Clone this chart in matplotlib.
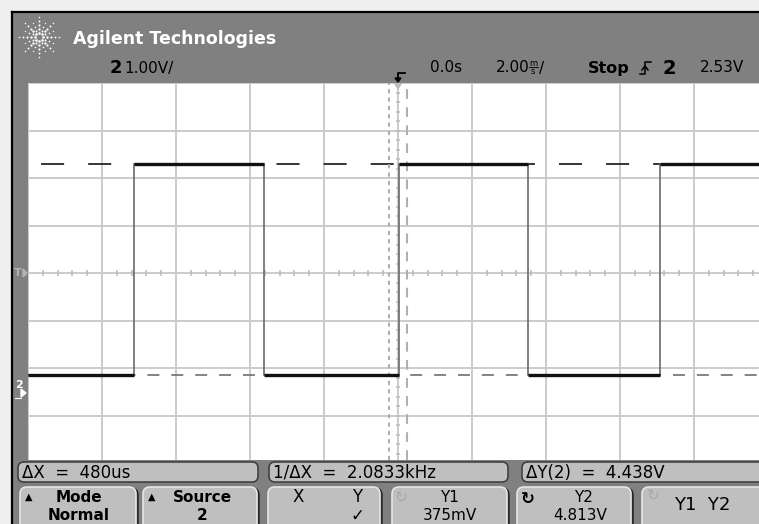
import numpy as np
import matplotlib
matplotlib.use("Agg")
import matplotlib.pyplot as plt
from matplotlib.patches import Rectangle, FancyBboxPatch, Polygon

plt.rcParams['font.family'] = ['DejaVu Sans']
plt.rcParams['lines.scale_dashes'] = False

# Scope settings
volts_per_div = 1.00
ms_per_div = 2.00
center_volts = 2.52          # voltage at screen centre line
trigger_level = "2.53V"

# Captured square wave (channel 2): edge times in ms and levels in V
edges_ms = [-10.0, -7.13, -3.61, 0.03, 3.50, 7.08, 9.8]
levels_v = [0.375, 4.813, 0.375, 4.813, 0.375, 4.813]

# Cursors
y1_v = 0.375
y2_v = 4.813
x1_ms = -0.23
dx_ms = 0.48
x2_ms = x1_ms + dx_ms

# Soft-key / readout labels
readouts = ["\u0394X  =  480us", "1/\u0394X  =  2.0833kHz", "\u0394Y(2)  =  4.438V"]
softkeys = [("Mode", "Normal"), ("Source", "2"), ("X", "Y", "\u2713"),
            ("Y1", "375mV"), ("Y2", "4.813V"), ("Y1  Y2",)]

W, H = 759, 524
fig = plt.figure(figsize=(W / 100, H / 100), dpi=100)
bg = fig.add_axes([0, 0, 1, 1])
bg.set_xlim(0, W)
bg.set_ylim(H, 0)
bg.axis('off')

dark = '#808080'
key = '#bfbfbf'

# outer page + scope chrome
bg.add_patch(Rectangle((0, 0), W, H, color='#efefef', zorder=0))
bg.add_patch(Rectangle((12, 12), W, H, color=dark, zorder=1))
bg.plot([11.5, 11.5], [11.5, H], color='black', lw=1.6, zorder=2)
bg.plot([11.5, W], [11.5, 11.5], color='black', lw=1.6, zorder=2)

# logo sparkle
cx, cy = 39, 37
for ang in np.arange(0, 360, 45):
    for r, s in [(4, 3.5), (8, 3.0), (12, 2.4), (16, 1.8), (20, 1.2)]:
        bg.scatter(cx + r * np.cos(np.radians(ang)), cy + r * np.sin(np.radians(ang)),
                   s=s, color='white', zorder=3, linewidths=0)
for ang in np.arange(22.5, 360, 45):
    for r, s in [(7, 2.0), (11, 1.4), (15, 0.9)]:
        bg.scatter(cx + r * np.cos(np.radians(ang)), cy + r * np.sin(np.radians(ang)),
                   s=s, color='white', zorder=3, linewidths=0)
bg.text(73, 39, "Agilent Technologies", color='white', fontsize=12.5,
        fontweight='bold', va='center', ha='left', zorder=3)

# header status line
bg.text(110, 68, "2", fontsize=13, fontweight='bold', va='center', zorder=3)
bg.text(124, 68, "1.00V/", fontsize=11, va='center', zorder=3)
bg.text(430, 68, "0.0s", fontsize=11, va='center', zorder=3)
bg.text(496, 68, "2.00", fontsize=11, va='center', zorder=3)
bg.text(533, 63, "m", fontsize=6, va='center', ha='center', zorder=3)
bg.plot([529, 538], [67, 67], color='black', lw=0.6, zorder=3)
bg.text(533, 72, "s", fontsize=6, va='center', ha='center', zorder=3)
bg.text(539, 68, "/", fontsize=11, va='center', zorder=3)
bg.text(588, 68, "Stop", fontsize=11.5, fontweight='bold', va='center', zorder=3)
bg.plot([640, 645, 645, 651], [74, 74, 62, 62], color='black', lw=1.1, zorder=3)
bg.plot([642, 645, 648], [70, 66, 70], color='black', lw=1.1, zorder=3)
bg.text(663, 68, "2", fontsize=14, fontweight='bold', va='center', zorder=3)
bg.text(700, 68, trigger_level, fontsize=11, va='center', zorder=3)
# trigger position marker
bg.plot([405, 398, 398], [73, 73, 80], color='black', lw=1.3, zorder=3)
bg.add_patch(Polygon([[395, 78], [401, 78], [398, 82]], color='black', zorder=3))

# left strip markers
bg.text(18, 273, "T", fontsize=8, color='#b4b4b4', fontweight='bold',
        va='center', ha='center', zorder=3)
bg.add_patch(Polygon([[23, 269], [23, 277], [27, 273]], color='#b4b4b4', zorder=3))
bg.text(19, 385, "2", fontsize=8, color='white', fontweight='bold',
        va='center', ha='center', zorder=3)
bg.add_patch(Polygon([[21, 389], [21, 397], [26, 393]], color='white', zorder=3))
bg.plot([15, 21], [398, 398], color='white', lw=0.8, zorder=3)

# readout row
readout_boxes = [(18, 258), (269, 508), (522, 775)]
for (x0, x1), txt in zip(readout_boxes, readouts):
    bg.add_patch(FancyBboxPatch((x0, 462), x1 - x0, 20,
                                boxstyle="round,pad=0,rounding_size=6",
                                fc=key, ec='#3a3a3a', lw=1.1, zorder=3))
    bg.text(x0 + 4, 472.5, txt, fontsize=12, va='center', ha='left', zorder=4)

# softkey row
key_boxes = [(20, 137), (143, 258), (268, 381), (392, 508), (517, 632), (642, 775)]
for x0, x1 in key_boxes:
    bg.add_patch(FancyBboxPatch((x0 + 1, 488), x1 - x0, 45,
                                boxstyle="round,pad=0,rounding_size=7",
                                fc='#404040', ec='#202020', lw=1.0, zorder=3))
    bg.add_patch(FancyBboxPatch((x0, 487), x1 - x0 - 1, 45,
                                boxstyle="round,pad=0,rounding_size=7",
                                fc=key, ec='#e6e6e6', lw=1.2, zorder=3))

fs = 11
ya, yb = 497, 516
bg.text(29, 497, "\u25b2", fontsize=7, va='center', ha='center', zorder=4)
bg.text(79, ya, softkeys[0][0], fontsize=fs, fontweight='bold', va='center', ha='center', zorder=4)
bg.text(79, yb, softkeys[0][1], fontsize=fs, fontweight='bold', va='center', ha='center', zorder=4)
bg.text(152, 497, "\u25b2", fontsize=7, va='center', ha='center', zorder=4)
bg.text(202, ya, softkeys[1][0], fontsize=fs, fontweight='bold', va='center', ha='center', zorder=4)
bg.text(202, yb, softkeys[1][1], fontsize=fs, fontweight='bold', va='center', ha='center', zorder=4)
bg.text(298, ya, softkeys[2][0], fontsize=fs + 1, va='center', ha='center', zorder=4)
bg.text(357, ya, softkeys[2][1], fontsize=fs + 1, va='center', ha='center', zorder=4)
bg.text(357, yb, softkeys[2][2], fontsize=fs + 1, va='center', ha='center', zorder=4)
bg.text(401, 497, "\u21bb", fontsize=11, color='#a8a8a8', va='center', ha='center', zorder=4)
bg.text(450, ya, softkeys[3][0], fontsize=fs, va='center', ha='center', zorder=4)
bg.text(450, yb, softkeys[3][1], fontsize=fs, va='center', ha='center', zorder=4)
bg.text(528, 499, "\u21bb", fontsize=12, fontweight='bold', va='center', ha='center', zorder=4)
bg.text(584, ya, softkeys[4][0], fontsize=fs, va='center', ha='center', zorder=4)
bg.text(580, yb, softkeys[4][1], fontsize=fs, va='center', ha='center', zorder=4)
bg.text(653, 495, "\u21bb", fontsize=11, color='#a8a8a8', va='center', ha='center', zorder=4)
bg.text(702, 505, softkeys[5][0], fontsize=13, va='center', ha='center', zorder=4)

# --- waveform graticule ---
gx0, gx1, gy0, gy1 = 28, W, 83, 460
px_div_x, px_div_y = 74.0, 47.5
ax = fig.add_axes([gx0 / W, 1 - gy1 / H, (gx1 - gx0) / W, (gy1 - gy0) / H], zorder=5)
ax.set_facecolor('white')
for s in ax.spines.values():
    s.set_visible(False)
ax.set_xticks(np.arange(-5, 6) * ms_per_div)
ax.set_yticks(center_volts + np.arange(-4, 5) * volts_per_div)
ax.tick_params(length=0, labelbottom=False, labelleft=False)
ax.grid(True, color='#cbcbcb', lw=1.4, zorder=1)
ax.set_axisbelow(True)

# centre-line minor ticks
minor_t = np.arange(-25, 26) * ms_per_div / 5
minor_t = minor_t[np.abs(np.round(minor_t / ms_per_div) * ms_per_div - minor_t) > 1e-6]
ax.vlines(minor_t, center_volts - 0.06, center_volts + 0.06, color='#bdbdbd', lw=1.2, zorder=2)
minor_v = center_volts + np.arange(-20, 21) * volts_per_div / 5
ax.hlines(minor_v, -0.06, 0.06, color='#bdbdbd', lw=1.2, zorder=2)

# cursors
ax.axhline(y2_v, color='#262626', lw=1.3, linestyle=(24.5, (16.6, 17.3)), zorder=3)
ax.axhline(y1_v, color='#6e6e6e', lw=1.2, linestyle=(0, (8.6, 8.6)), zorder=3)
ax.axvline(x1_ms, color='#b0b0b0', lw=1.5, linestyle=(0, (3.0, 3.0)), zorder=3)
ax.axvline(x2_ms, color='#b0b0b0', lw=1.5, linestyle=(0, (7.0, 6.0)), zorder=3)
ax.add_patch(Polygon([[-0.1, center_volts + 4], [0.1, center_volts + 4],
                      [0.0, center_volts + 3.88]], color='#bcbcbc', zorder=3))

# trace
ax.stairs(levels_v, edges_ms, color='#6a6a6a', lw=1.2, baseline=None, zorder=4)
ax.hlines(levels_v, edges_ms[:-1], edges_ms[1:], color='#111111', lw=2.4, zorder=5)

# view limits last, so tick placement doesn't widen them
t_left = -5 * ms_per_div
ax.set_xlim(t_left, t_left + (gx1 - gx0) / px_div_x * ms_per_div)
ax.set_ylim(center_volts - (gy1 - 273) / px_div_y * volts_per_div,
            center_volts + (273 - gy0) / px_div_y * volts_per_div)

fig.savefig("out.png", dpi=100)
